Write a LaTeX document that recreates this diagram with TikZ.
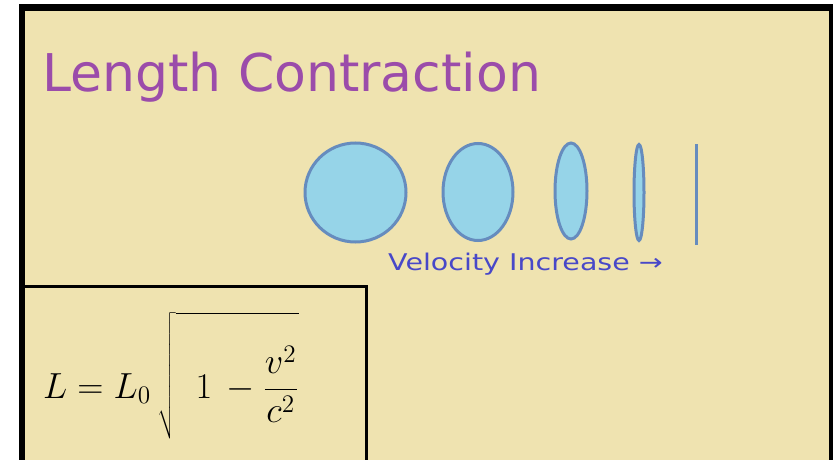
\documentclass[tikz,border=0pt]{standalone}
\usepackage{fontspec}
\newfontfamily\slidefont{DejaVu Sans}
\definecolor{slidebg}{RGB}{239,227,176}
\definecolor{titlepurple}{RGB}{155,76,170}
\definecolor{textblue}{RGB}{72,72,200}
\definecolor{shapefill}{RGB}{150,212,232}
\definecolor{shapeline}{RGB}{102,140,190}
\tikzset{
  body/.style={fill=shapefill, draw=shapeline, line width=3},
  slidetext/.style={inner sep=0, anchor=base west, font=\slidefont}
}
\begin{document}
\begin{tikzpicture}[x=1pt, y=-1pt]
  \useasboundingbox (0,0) rectangle (833,460);
  % Slide frame
  \fill[white] (0,0) rectangle (833,460);
  \fill[black] (19,4) rectangle (833,460);
  \fill[slidebg] (25,11) rectangle (829,460);

  % Title
  \node[slidetext, text=titlepurple, font=\slidefont\fontsize{52}{60}\selectfont] (title) at (42,92) {Length Contraction};

  % Shapes squeezed as the velocity grows
  \draw[body] (355.5,192.5) ellipse (50.5 and 49.5);
  \draw[body] (478,192) ellipse (35 and 48.5);
  \draw[body] (571,191) ellipse (16 and 48);
  \draw[body] (639,192.5) ellipse (5 and 48);
  \draw[shapeline, line width=3] (696,144) -- (696,245);
  \node[slidetext, text=textblue, font=\slidefont\fontsize{23}{26}\selectfont] (velocity) at (388,270)
    {\scalebox{1.24}[1]{Velocity Increase →}};

  % Formula box
  \draw[black, line width=3] (19,286) -| (366,460);
  \node[inner sep=0, anchor=base west, font=\fontsize{20}{24}\selectfont] (formula) at (43,398)
    {\scalebox{1.75}{$\displaystyle L = L_0\,\sqrt{\rule[-1.15em]{0pt}{3.4em}\mskip10mu 1 \mskip3mu - \frac{v^2}{c^2}}$}};
\end{tikzpicture}
\end{document}
